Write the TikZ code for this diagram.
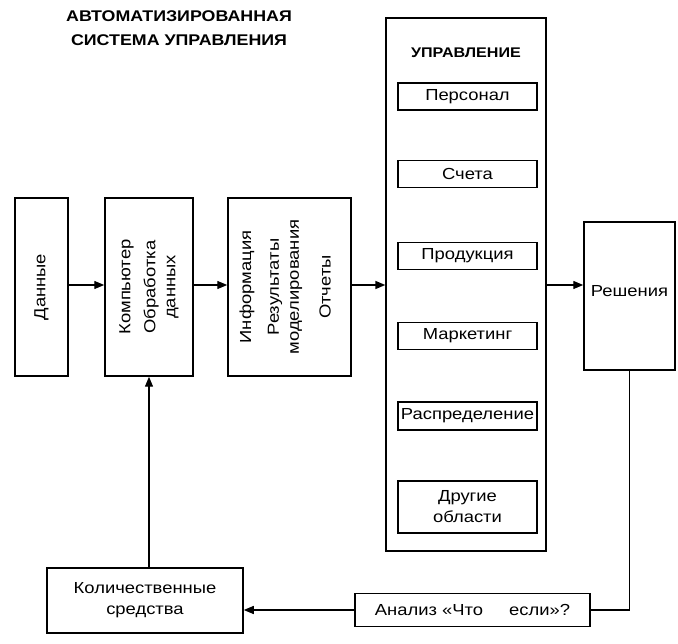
\documentclass[tikz,border=0pt]{standalone}
\usepackage{fontspec}
\setmainfont{Liberation Sans}[FakeStretch=1.15]
\usetikzlibrary{arrows.meta}
\begin{document}
\begin{tikzpicture}[x=1pt,y=-1pt,
  box/.style={draw, line width=1.5pt, inner sep=0pt, align=center,
    font=\fontsize{16}{21}\selectfont},
  vtext/.style={rotate=90, align=center, inner sep=0pt,
    font=\fontsize{16}{20}\selectfont},
  sub/.style={box, minimum width=139pt},
  conn/.style={line width=1.4pt},
  arr/.style={conn, -{Triangle[length=10pt,width=8pt]}}]
\path[use as bounding box] (0,0) rectangle (678,644);

% title
\node[align=center, font=\bfseries\fontsize{15.5}{24}\selectfont] (title) at (179,28)
  {АВТОМАТИЗИРОВАННАЯ\\СИСТЕМА УПРАВЛЕНИЯ};

% left chain
\node[box, minimum width=53pt, minimum height=178pt] (dan) at (41.5,287) {};
\node[vtext] (dantxt) at (dan.center) {Данные};
\node[box, minimum width=88pt, minimum height=178pt] (comp) at (149,287) {};
\node[vtext] (comptxt) at (comp.center) {Компьютер\\[5pt]Обработка\\данных};
\node[box, minimum width=123pt, minimum height=178pt] (info) at (289.5,287) {};
\node[vtext] (info1) at (247,287) {Информация};
\node[vtext] (info2) at (285,287) {Результаты\\моделирования};
\node[vtext] (info3) at (325,287) {Отчеты};

% management block
\node[draw, line width=1.3pt, minimum width=160pt, minimum height=533pt, inner sep=0pt] (upr) at (466,284.5) {};
\node[font=\bfseries\fontsize{14}{16}\selectfont] (uprtxt) at (466,53) {УПРАВЛЕНИЕ};
\node[sub, minimum height=27pt] (pers) at (467.5,96.5) {Персонал};
\node[sub, minimum height=27pt] (scheta) at (467.5,174) {Счета};
\node[sub, minimum height=27pt] (prod) at (467.5,256) {Продукция};
\node[sub, minimum height=27pt] (mark) at (467.5,336) {Маркетинг};
\node[sub, minimum height=28pt] (raspr) at (467.5,416) {Распределение};
\node[sub, minimum height=52pt] (drug) at (467.5,507) {Другие\\области};

% decisions
\node[box, minimum width=91pt, minimum height=148pt] (resh) at (629.5,296) {};
\node[font=\fontsize{16}{20}\selectfont] (reshtxt) at (629.5,291) {Решения};

% bottom
\node[box, minimum width=196pt, minimum height=65pt] (kol) at (145,600.5) {Количественные\\средства};
\node[box, minimum width=235pt, minimum height=33pt] (ana) at (472.5,610) {Анализ «Что\hspace{26pt}если»?};

% connectors
\draw[arr] (dan.east |- 0,285) -- (comp.west |- 0,285);
\draw[arr] (comp.east |- 0,285) -- (info.west |- 0,285);
\draw[arr] (info.east |- 0,285) -- (upr.west |- 0,285);
\draw[arr] (upr.east |- 0,285) -- (resh.west |- 0,285);
\draw[conn] (resh.south) |- (ana.east);
\draw[arr] (ana.west) -- (ana.west -| kol.east);
\draw[arr] (comp.south |- kol.north) -- (comp.south);
\end{tikzpicture}
\end{document}
